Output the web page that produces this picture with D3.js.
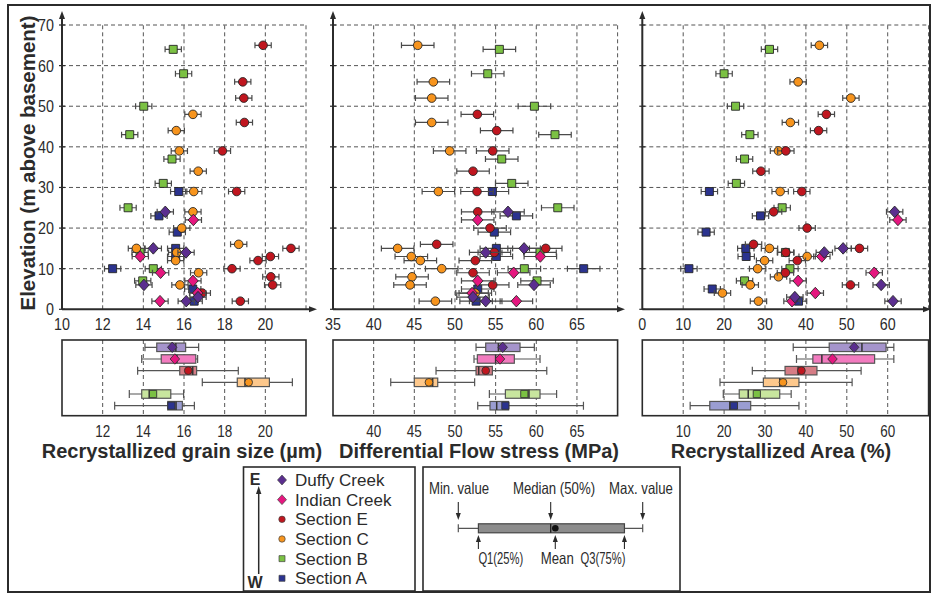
<!DOCTYPE html>
<html>
<head>
<meta charset="utf-8">
<script src="https://cdn.jsdelivr.net/npm/d3@7"></script>
<style>
  body { margin: 0; background: #fff; }
  svg { display: block; }
</style>
</head>
<body>
<svg id="chart" width="932" height="595"></svg>
<script>
// ---- series definitions (legend order, east to west) ----
const seriesNames  = ["Duffy Creek", "Indian Creek", "Section E", "Section C", "Section B", "Section A"];
const seriesColors = ["#5b2e8f", "#e5177f", "#c0161f", "#f7941d", "#7bc143", "#2b338f"];
const boxFills     = ["#a594cb", "#f27bbf", "#d67d86", "#fdc88c", "#c8e59e", "#9a9dd2"];
const seriesShapes = ["diamond", "diamond", "circle", "circle", "square", "square"];

// ---- samples: elevation (m above basement) and measured values ----
const duffyElev   = [24, 15, 14, 6, 3, 2];
const duffyGrain  = [15.08, 14.49, 16.10, 14.03, 16.69, 16.11];
const duffyStress = [56.52, 58.50, 53.78, 59.72, 52.22, 53.78];
const duffyArea   = [61.7, 49.1, 44.5, 58.4, 37.3, 61.3];

const indianElev   = [22, 13, 9, 7, 4, 2];
const indianGrain  = [16.46, 13.85, 14.85, 16.44, 16.67, 14.82];
const indianStress = [52.80, 60.50, 57.22, 52.80, 52.10, 57.55];
const indianArea   = [62.5, 43.9, 56.7, 38.1, 42.3, 36.6];

const sectionEElev   = [48, 44, 39, 34, 29, 24, 20, 16, 15, 14, 12, 9, 6];
const sectionEGrain  = [16.44, 15.62, 15.77, 16.70, 16.48, 16.44, 15.89, 18.69, 13.66, 15.64, 15.59, 16.72, 15.80];
const sectionEStress = [52.75, 55.13, 54.64, 52.22, 52.71, 52.80, 54.31, 47.75, 61.16, 54.84, 52.50, 52.22, 54.64];
const sectionEArea   = [45.0, 43.1, 35.1, 29.0, 39.0, 32.1, 40.3, 27.2, 53.1, 35.1, 37.9, 35.0, 50.9];

const sectionCElev   = [65, 56, 52, 46, 39, 29, 15, 13, 12, 10, 8, 6, 4, 2];
const sectionCGrain  = [19.89, 18.89, 18.94, 18.97, 17.89, 18.59, 21.26, 20.25, 19.64, 18.36, 20.27, 20.36, 16.90, 18.77];
const sectionCStress = [45.42, 47.34, 47.14, 47.14, 49.35, 47.96, 42.95, 44.63, 45.74, 48.37, 44.72, 44.47, 52.50, 47.59];
const sectionCArea   = [43.3, 38.1, 51.0, 36.2, 33.3, 33.7, 31.1, 40.3, 29.9, 28.2, 33.3, 26.4, 19.6, 28.4];

const sectionBElev   = [64, 58, 50, 43, 37, 31, 25, 14, 10, 7];
const sectionBGrain  = [15.47, 15.98, 14.02, 13.33, 15.41, 14.98, 13.25, 13.84, 14.49, 13.97];
const sectionBStress = [55.46, 54.03, 59.77, 62.30, 55.75, 56.98, 62.64, 60.46, 58.53, 60.09];
const sectionBArea   = [31.1, 20.0, 22.8, 26.3, 25.0, 23.0, 34.2, 35.0, 36.1, 25.0];

const sectionAElev   = [29, 23, 19, 15, 13, 10, 5, 2];
const sectionAGrain  = [15.74, 14.77, 15.67, 15.59, 15.59, 12.49, 16.43, 16.50];
const sectionAStress = [54.60, 57.55, 54.84, 55.09, 55.09, 65.83, 52.80, 52.60];
const sectionAArea   = [16.4, 28.9, 15.6, 25.3, 25.4, 11.4, 17.1, 38.2];

// measurement uncertainty (half-width of horizontal error bars)
const grainErr = 0.4, stressErr = 2.0, areaErr = 2.0;

// ---- box-plot summaries: [min, Q1, median, mean, Q3, max], legend order ----
const grainBoxStats = [
  [14.08, 14.66, 15.60, 15.42, 16.08, 16.72],
  [13.92, 14.88, 15.65, 15.55, 16.58, 16.67],
  [13.72, 15.79, 16.43, 16.21, 16.62, 18.67],
  [16.90, 18.62, 19.00, 19.18, 20.20, 21.33],
  [13.31, 13.92, 14.29, 14.48, 15.35, 15.98],
  [12.59, 15.20, 15.61, 15.38, 15.92, 16.51]
];
const stressBoxStats = [
  [52.59, 53.78, 55.34, 55.87, 58.00, 59.76],
  [52.34, 52.75, 55.00, 55.54, 57.30, 60.46],
  [47.67, 52.59, 52.92, 53.78, 54.60, 61.29],
  [42.10, 45.00, 47.26, 46.80, 47.88, 52.42],
  [54.23, 56.20, 59.10, 58.53, 60.46, 62.50],
  [52.80, 54.31, 55.13, 56.20, 56.60, 65.80]
];
const areaBoxStats = [
  [36.9, 45.7, 53.7, 51.8, 59.6, 61.5],
  [37.7, 41.7, 43.9, 46.5, 56.8, 61.5],
  [26.9, 34.9, 38.1, 38.9, 42.7, 53.5],
  [19.0, 29.6, 33.6, 34.4, 38.3, 51.3],
  [19.8, 23.7, 25.9, 28.0, 33.6, 36.4],
  [11.7, 16.5, 21.4, 22.4, 26.5, 38.3]
];

// ---- tick labels ----
const elevationTicks   = [0, 10, 20, 30, 40, 50, 60, 70];
const grainTicks       = [10, 12, 14, 16, 18, 20];
const stressTicks      = [35, 40, 45, 50, 55, 60, 65];
const areaTicks        = [0, 10, 20, 30, 40, 50, 60];
const grainBoxTicks    = [12, 14, 16, 18, 20];
const stressBoxTicks   = [40, 45, 50, 55, 60, 65];
const areaBoxTicks     = [10, 20, 30, 40, 50, 60];

// ---- assemble ----
const sampleSets = [
  [duffyElev, duffyGrain, duffyStress, duffyArea],
  [indianElev, indianGrain, indianStress, indianArea],
  [sectionEElev, sectionEGrain, sectionEStress, sectionEArea],
  [sectionCElev, sectionCGrain, sectionCStress, sectionCArea],
  [sectionBElev, sectionBGrain, sectionBStress, sectionBArea],
  [sectionAElev, sectionAGrain, sectionAStress, sectionAArea]
];
const seriesData = seriesNames.map((name, i) => ({
  name, color: seriesColors[i], boxFill: boxFills[i], shape: seriesShapes[i],
  samples: sampleSets[i][0].map((e, j) => ({
    elev: e, grain: sampleSets[i][1][j], stress: sampleSets[i][2][j], area: sampleSets[i][3][j]
  }))
}));

// In the grain-size scatter, Section E and Section C markers carry each other's fill.
const grainFillOverride = { "Section E": seriesColors[3], "Section C": seriesColors[2] };

const SANS = '"Liberation Sans", Arial, sans-serif';
const INK = "#2b2b2b";

// squeeze a text horizontally to a condensed face
function condense(sel, factor) {
  sel.each(function () {
    const len = this.getComputedTextLength();
    d3.select(this).attr("textLength", len * factor).attr("lengthAdjust", "spacingAndGlyphs");
  });
  return sel;
}

const svg = d3.select("#chart");

// outer frame
svg.append("rect").attr("x", 8).attr("y", 5).attr("width", 922).attr("height", 587)
  .attr("fill", "none").attr("stroke", INK).attr("stroke-width", 2);

const y = d3.scaleLinear().domain([0, 70]).range([309.3, 25]);
const rowY = d3.scalePoint().domain(seriesNames).range([347.3, 405.7]);
const boxTop = 340, boxBottom = 415.7, boxH = 8.5;

const panels = [
  { key: "grain", x: d3.scaleLinear([10, 22], [62, 306]), ticks: grainTicks, boxTicks: grainBoxTicks,
    err: grainErr, stats: grainBoxStats, arrowTip: 317, title: "Recrystallized grain size (µm)", titleX: 182, yLabels: true },
  { key: "stress", x: d3.scaleLinear([35, 70], [333, 617.6]), ticks: stressTicks, boxTicks: stressBoxTicks,
    err: stressErr, stats: stressBoxStats, arrowTip: 625, title: "Differential Flow stress (MPa)", titleX: 479, yLabels: false },
  { key: "area", x: d3.scaleLinear([0, 70], [642.3, 928.6]), ticks: areaTicks, boxTicks: areaBoxTicks,
    err: areaErr, stats: areaBoxStats, arrowTip: 931, title: "Recrystallized Area (%)", titleX: 781, yLabels: false }
];

function markerPath(shape, size) {
  const s = size / 2;
  if (shape === "diamond") return `M0,${-s * 1.1}L${s},0L0,${s * 1.1}L${-s},0Z`;
  if (shape === "square") return `M${-s * 0.8},${-s * 0.8}H${s * 0.8}V${s * 0.8}H${-s * 0.8}Z`;
  return d3.symbol(d3.symbolCircle, Math.PI * (s * 0.86) * (s * 0.86))();
}

panels.forEach(p => {
  const g = svg.append("g");
  const [x0, x1] = p.x.domain();

  // dashed grid
  const gridX = d3.range(p.ticks[1], x1 + 0.001, p.ticks[1] - p.ticks[0]);
  g.selectAll(".vg").data(gridX).join("line")
    .attr("x1", d => p.x(d)).attr("x2", d => p.x(d))
    .attr("y1", y(0)).attr("y2", y(70))
    .attr("stroke", "#555").attr("stroke-width", 1).attr("stroke-dasharray", "4,3");
  g.selectAll(".hg").data(elevationTicks.slice(1)).join("line")
    .attr("x1", p.x(x0)).attr("x2", p.x(x1))
    .attr("y1", d => y(d)).attr("y2", d => y(d))
    .attr("stroke", "#555").attr("stroke-width", 1).attr("stroke-dasharray", "4,3");

  // axes with arrowheads
  const ax = p.x(x0);
  g.append("line").attr("x1", ax).attr("x2", ax).attr("y1", y(0)).attr("y2", 16)
    .attr("stroke", INK).attr("stroke-width", 2);
  g.append("path").attr("d", `M${ax},11L${ax - 3},19L${ax + 3},19Z`).attr("fill", INK);
  g.append("line").attr("x1", ax).attr("x2", p.arrowTip - 5).attr("y1", y(0)).attr("y2", y(0))
    .attr("stroke", INK).attr("stroke-width", 2);
  g.append("path").attr("d", `M${p.arrowTip},${y(0)}L${p.arrowTip - 8},${y(0) - 3}L${p.arrowTip - 8},${y(0) + 3}Z`).attr("fill", INK);

  // elevation ticks
  g.selectAll(".yt").data(elevationTicks).join("line")
    .attr("x1", ax - 3).attr("x2", ax + 3)
    .attr("y1", d => y(d)).attr("y2", d => y(d))
    .attr("stroke", INK).attr("stroke-width", 1.2);
  if (p.yLabels) {
    condense(g.selectAll(".yl").data(elevationTicks).join("text")
      .attr("x", ax - 8).attr("y", d => y(d)).attr("dy", "0.35em")
      .attr("text-anchor", "end").attr("font-family", SANS).attr("font-size", 17).attr("fill", INK)
      .text(d => d), 0.84);
  }
  // x tick labels under scatter
  condense(g.selectAll(".xl").data(p.ticks).join("text")
    .attr("x", d => p.x(d)).attr("y", 324).attr("dy", "0.35em")
    .attr("text-anchor", "middle").attr("font-family", SANS).attr("font-size", 17).attr("fill", INK)
    .text(d => d), 0.84);

  // scatter, drawn west to east so creek samples sit on top
  seriesData.slice().reverse().forEach(s => {
    const fill = p.key === "grain" && grainFillOverride[s.name] ? grainFillOverride[s.name] : s.color;
    const sg = g.append("g");
    const pts = s.samples.filter(d => d[p.key] != null);
    sg.selectAll(".eb").data(pts).join("path")
      .attr("d", d => {
        const l = p.x(d[p.key] - p.err), r = p.x(d[p.key] + p.err), yy = y(d.elev);
        return `M${l},${yy}H${r}M${l},${yy - 3}V${yy + 3}M${r},${yy - 3}V${yy + 3}`;
      })
      .attr("stroke", "#4a4a4a").attr("stroke-width", 1.2).attr("fill", "none");
    sg.selectAll(".mk").data(pts).join("path")
      .attr("transform", d => `translate(${p.x(d[p.key])},${y(d.elev)})`)
      .attr("d", markerPath(s.shape, s.shape === "diamond" ? 10.5 : 10))
      .attr("fill", fill).attr("stroke", "#262626").attr("stroke-width", 0.9);
  });

  // box-plot strip
  const bg = svg.append("g");
  bg.selectAll(".bvg").data(p.boxTicks).join("line")
    .attr("x1", d => p.x(d)).attr("x2", d => p.x(d))
    .attr("y1", boxTop).attr("y2", boxBottom)
    .attr("stroke", "#555").attr("stroke-width", 1).attr("stroke-dasharray", "4,3");

  seriesData.forEach((s, i) => {
    const [mn, q1, med, mean, q3, mx] = p.stats[i];
    const cy = rowY(s.name);
    const rg = bg.append("g");
    rg.append("path")
      .attr("d", `M${p.x(mn)},${cy}H${p.x(mx)}M${p.x(mn)},${cy - 4}V${cy + 4}M${p.x(mx)},${cy - 4}V${cy + 4}`)
      .attr("stroke", "#555").attr("stroke-width", 1.2).attr("fill", "none");
    rg.append("rect").attr("x", p.x(q1)).attr("y", cy - boxH / 2)
      .attr("width", p.x(q3) - p.x(q1)).attr("height", boxH)
      .attr("fill", s.boxFill).attr("stroke", "#555").attr("stroke-width", 1.2);
    rg.append("line").attr("x1", p.x(med)).attr("x2", p.x(med))
      .attr("y1", cy - boxH / 2).attr("y2", cy + boxH / 2)
      .attr("stroke", "#333").attr("stroke-width", 1.5);
    rg.append("path")
      .attr("transform", `translate(${p.x(mean)},${cy})`)
      .attr("d", markerPath(s.shape, s.shape === "diamond" ? 9.5 : 9))
      .attr("fill", s.color).attr("stroke", "#333").attr("stroke-width", 0.9);
  });

  bg.append("rect").attr("x", p.x(x0)).attr("y", boxTop)
    .attr("width", p.x(x1) - p.x(x0)).attr("height", boxBottom - boxTop)
    .attr("fill", "none").attr("stroke", INK).attr("stroke-width", 1.6);

  condense(bg.selectAll(".bl").data(p.boxTicks).join("text")
    .attr("x", d => p.x(d)).attr("y", 431).attr("dy", "0.35em")
    .attr("text-anchor", "middle").attr("font-family", SANS).attr("font-size", 16).attr("fill", INK)
    .text(d => d), 0.84);

  bg.append("text").attr("x", p.titleX).attr("y", 451)
    .attr("dy", "0.35em").attr("text-anchor", "middle")
    .attr("font-family", SANS).attr("font-weight", "bold").attr("font-size", 20).attr("fill", INK)
    .text(p.title);
});

// elevation axis title
svg.append("text").attr("transform", "translate(35,163) rotate(-90)")
  .attr("text-anchor", "middle").attr("font-family", SANS).attr("font-weight", "bold")
  .attr("font-size", 20.5).attr("fill", INK)
  .text("Elevation (m above basement)");

// ---- legend: sample locations ----
const lg = svg.append("g");
lg.append("rect").attr("x", 243.5).attr("y", 467).attr("width", 171.5).attr("height", 124)
  .attr("fill", "#fff").attr("stroke", INK).attr("stroke-width", 1.6);
const legendY = d3.scalePoint().domain(seriesNames).range([480, 578.3]);
lg.append("text").attr("x", 255).attr("y", 479).attr("dy", "0.35em").attr("text-anchor", "middle")
  .attr("font-family", SANS).attr("font-weight", "bold").attr("font-size", 16).attr("fill", INK).text("E");
lg.append("text").attr("x", 255).attr("y", 582).attr("dy", "0.35em").attr("text-anchor", "middle")
  .attr("font-family", SANS).attr("font-weight", "bold").attr("font-size", 16).attr("fill", INK).text("W");
lg.append("line").attr("x1", 258.7).attr("x2", 258.7).attr("y1", 574).attr("y2", 492)
  .attr("stroke", INK).attr("stroke-width", 1.5);
lg.append("path").attr("d", "M258.7,486L256,494L261.4,494Z").attr("fill", INK);
seriesData.forEach(s => {
  const cy = legendY(s.name);
  lg.append("path").attr("transform", `translate(282,${cy})`)
    .attr("d", markerPath(s.shape, s.shape === "diamond" ? 9 : 7.5))
    .attr("fill", s.color).attr("stroke", "#444").attr("stroke-width", 0.7);
  lg.append("text").attr("x", 295).attr("y", cy).attr("dy", "0.35em")
    .attr("font-family", SANS).attr("font-size", 17).attr("fill", INK).text(s.name);
});

// ---- legend: how to read a box plot ----
const kg = svg.append("g");
kg.append("rect").attr("x", 423).attr("y", 467).attr("width", 257).attr("height", 124)
  .attr("fill", "#fff").attr("stroke", INK).attr("stroke-width", 1.6);
const keyX = d3.scaleLinear().domain([0, 100]).range([458.3, 642.7]);
const keyStats = [0, 10.9, 50.1, 52.6, 90.1, 100];
const kyy = 528.3;
kg.append("path")
  .attr("d", `M${keyX(keyStats[0])},${kyy}H${keyX(keyStats[5])}M${keyX(keyStats[0])},${kyy - 4}V${kyy + 4}M${keyX(keyStats[5])},${kyy - 4}V${kyy + 4}`)
  .attr("stroke", "#555").attr("stroke-width", 1.2).attr("fill", "none");
kg.append("rect").attr("x", keyX(keyStats[1])).attr("y", kyy - 4.5)
  .attr("width", keyX(keyStats[4]) - keyX(keyStats[1])).attr("height", 9)
  .attr("fill", "#8c8c8c").attr("stroke", "#444").attr("stroke-width", 1.2);
kg.append("line").attr("x1", keyX(keyStats[2])).attr("x2", keyX(keyStats[2]))
  .attr("y1", kyy - 4.5).attr("y2", kyy + 4.5).attr("stroke", "#222").attr("stroke-width", 1.4);
kg.append("circle").attr("cx", keyX(keyStats[3])).attr("cy", kyy).attr("r", 3.3).attr("fill", "#111");

function arrow(xp, yFrom, yTo) {
  const dir = yTo > yFrom ? 1 : -1;
  kg.append("line").attr("x1", xp).attr("x2", xp).attr("y1", yFrom).attr("y2", yTo - dir * 5)
    .attr("stroke", INK).attr("stroke-width", 1.1);
  kg.append("path").attr("d", `M${xp},${yTo}L${xp - 2.5},${yTo - dir * 7}L${xp + 2.5},${yTo - dir * 7}Z`).attr("fill", INK);
}
arrow(keyX(keyStats[0]), 502, 520);
arrow(keyX(keyStats[2]), 502, 520);
arrow(keyX(keyStats[5]), 502, 520);
arrow(keyX(keyStats[1]), 549, 535);
arrow(keyX(keyStats[3]), 549, 535);
arrow(keyX(keyStats[4]), 549, 535);

const keyText = (x, yy, anchor, t, size, factor) => condense(kg.append("text").attr("x", x).attr("y", yy).attr("dy", "0.35em")
  .attr("text-anchor", anchor).attr("font-family", SANS).attr("font-size", size).attr("fill", INK).text(t), factor);
keyText(459, 488.3, "middle", "Min. value", 16.5, 0.8);
keyText(554, 488.3, "middle", "Median (50%)", 16.5, 0.8);
keyText(641, 488.3, "middle", "Max. value", 16.5, 0.8);
keyText(keyX(keyStats[1]), 558.3, "start", "Q1(25%)", 16.5, 0.68);
keyText(keyX(keyStats[3]) + 2, 558.3, "middle", "Mean", 16.5, 0.8);
keyText(keyX(keyStats[4]) + 1, 558.3, "end", "Q3(75%)", 16.5, 0.68);
</script>
</body>
</html>
